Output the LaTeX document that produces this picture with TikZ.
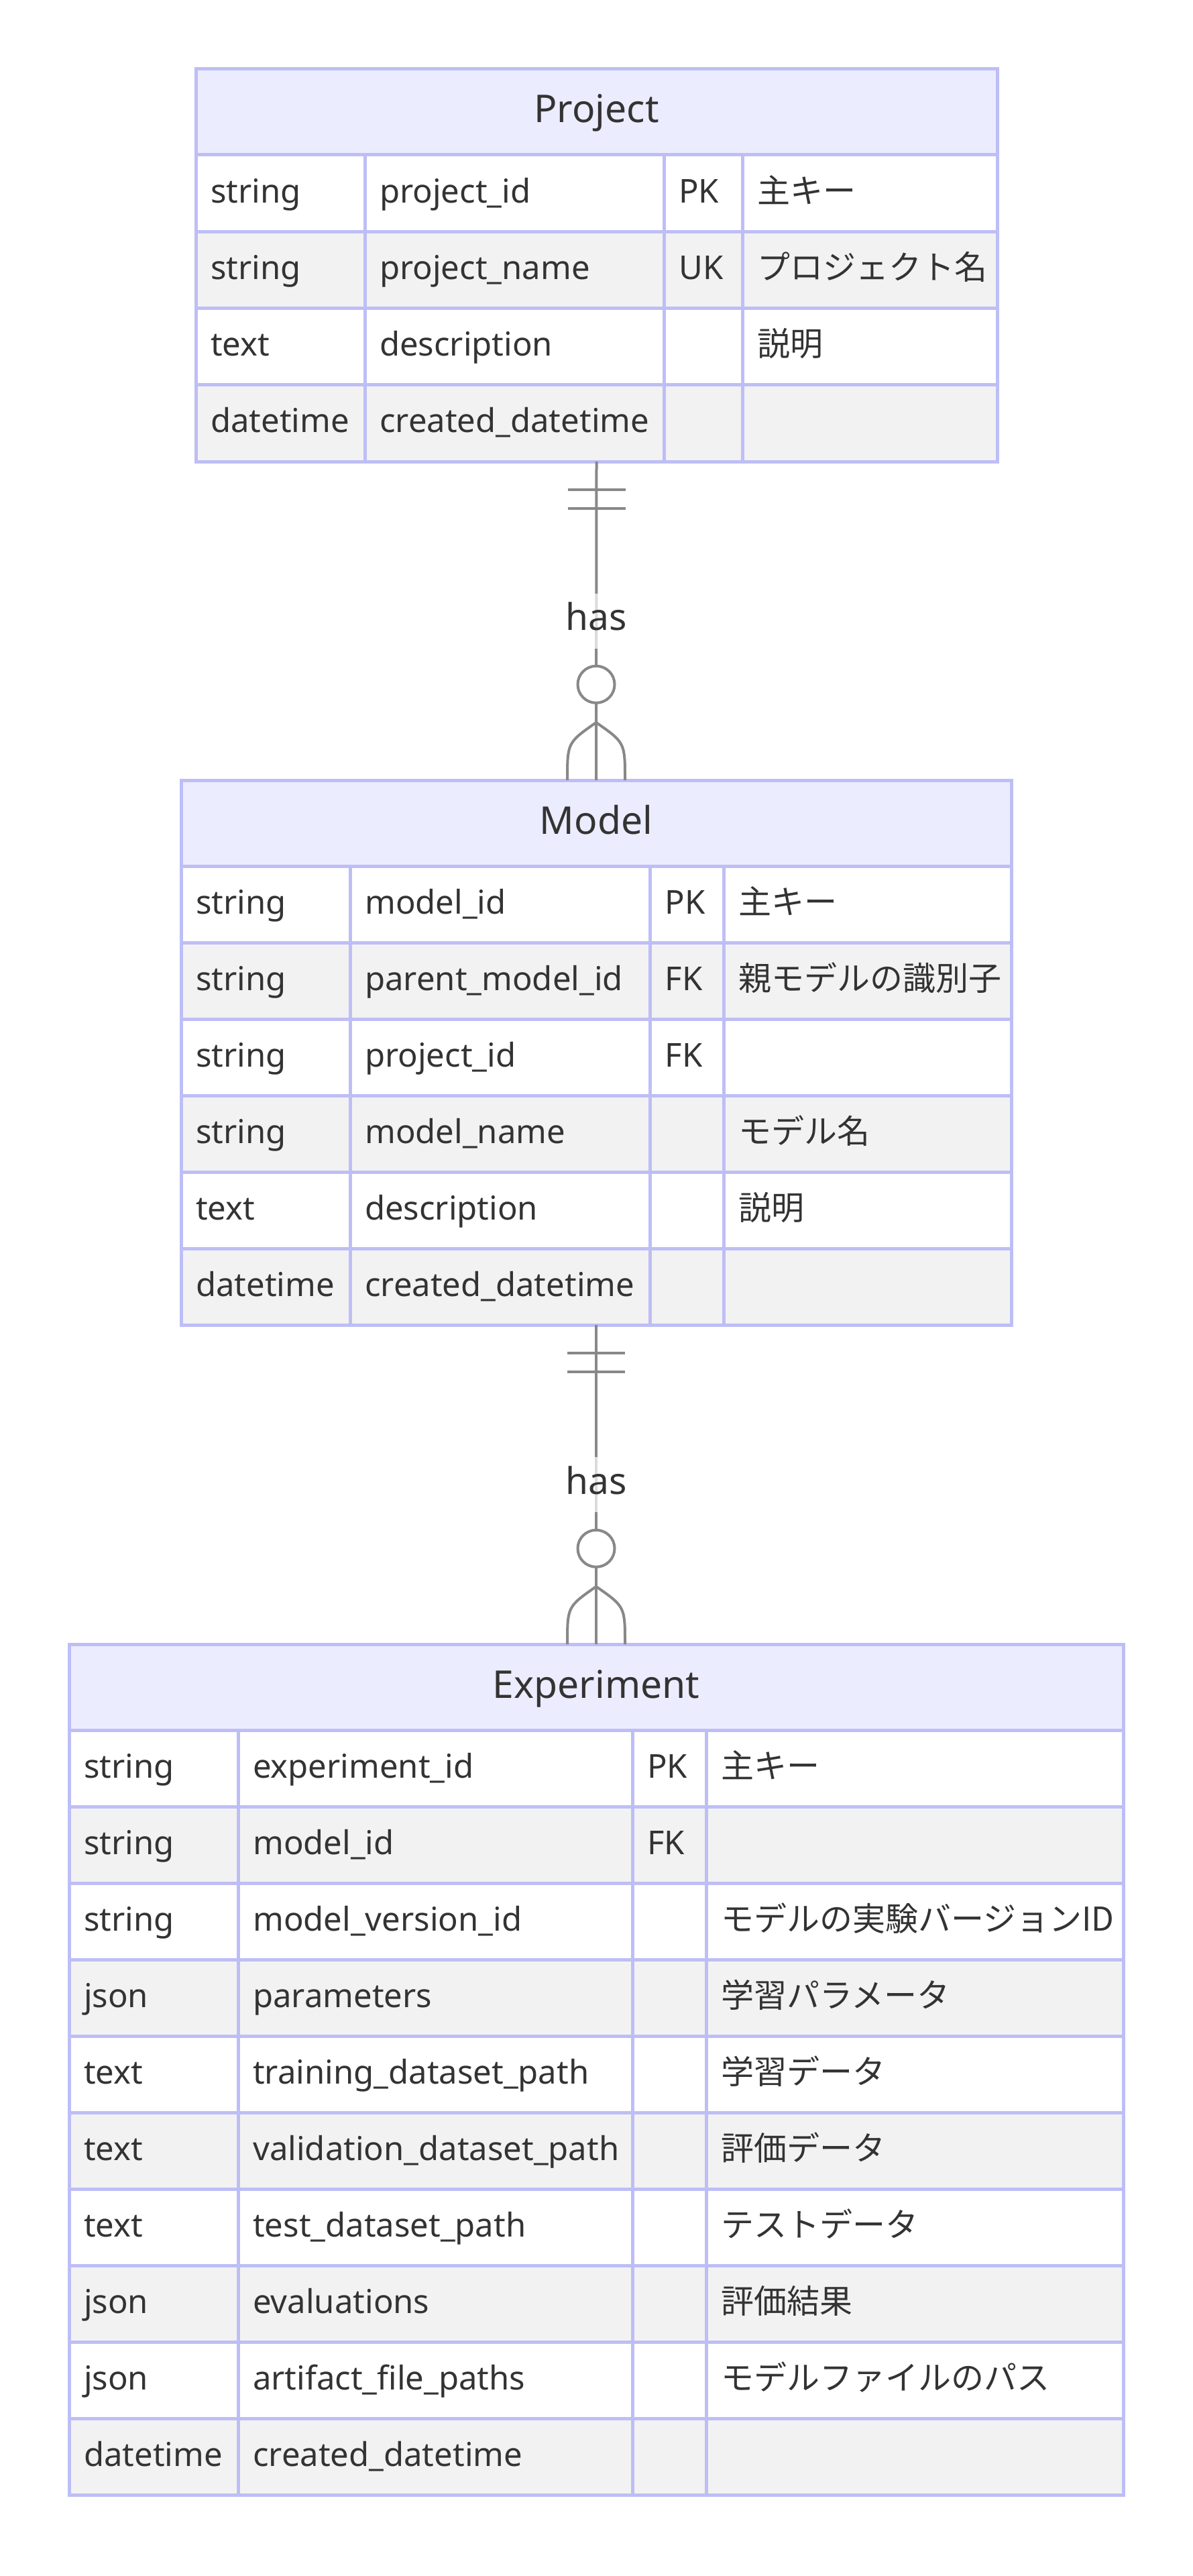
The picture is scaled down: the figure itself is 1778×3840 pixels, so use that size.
\documentclass[tikz,border=0pt]{standalone}
\usepackage{fontspec}
\setmainfont{Noto Sans}
\newfontfamily\jp{Noto Sans CJK JP}
\usepackage{tikz}
\definecolor{erborder}{RGB}{190,190,246}
\definecolor{erhead}{RGB}{236,236,255}
\definecolor{ereven}{RGB}{242,242,242}
\definecolor{ertext}{RGB}{51,51,51}
\definecolor{erline}{RGB}{136,136,136}
\tikzstyle{cell}=[draw=erborder, line width=5pt]
\tikzstyle{tableframe}=[draw=erborder, line width=5pt, inner sep=0, outer sep=0]
\tikzstyle{entitytitle}=[anchor=base, inner sep=0, text=ertext, font=\fontsize{57}{68}\selectfont]
\tikzstyle{attr}=[anchor=base west, inner sep=0, text=ertext, font=\fontsize{49}{59}\selectfont]
\tikzstyle{rel}=[draw=erline, line width=4pt]
\tikzstyle{haslabel}=[fill=white, fill opacity=0.7, text opacity=1, text=ertext, font=\fontsize{55}{66}\selectfont, text height=42pt, text depth=14pt, inner xsep=4pt, inner ysep=13pt]
\tikzstyle{onecirc}=[circle, draw=erline, line width=4pt, fill=white, minimum size=55pt, inner sep=0]

\begin{document}
\begin{tikzpicture}[x=1pt, y=-1pt]
	\fill[white] (0,0) rectangle (1778,3840);
	\useasboundingbox (0,0) rectangle (1778,3840);
	% Project
	\draw[cell, fill=erhead] (292,103) rectangle (1487,231);
	\node[entitytitle] (project-title) at (889.5,183) {Project};
	\foreach \ty/\nm/\ky/\cm [count=\i] in {string/project\_id/PK/主キー, string/project\_name/UK/プロジェクト名, text/description/{}/説明, datetime/created\_datetime/{}/{}}{
		\pgfmathsetmacro\yt{231+(\i-1)*114.25}
		\ifodd\i \def\rc{white}\else\def\rc{ereven}\fi
		\draw[cell, fill=\rc] (292,\yt) rectangle (544,\yt+114.25);
		\draw[cell, fill=\rc] (544,\yt) rectangle (990,\yt+114.25);
		\draw[cell, fill=\rc] (990,\yt) rectangle (1107,\yt+114.25);
		\draw[cell, fill=\rc] (1107,\yt) rectangle (1487,\yt+114.25);
		\node[attr] (p-ty-\i) at (314,\yt+71) {\ty};
		\node[attr] (p-nm-\i) at (566,\yt+71) {\nm};
		\node[attr] (p-ky-\i) at (1012,\yt+71) {\ky};
		\node[attr] (p-cm-\i) at (1129,\yt+71) {\jp\cm};
	}
	\node[tableframe, minimum width=1195pt, minimum height=585pt] (project) at (889.5,395.5) {};
	% Model
	\draw[cell, fill=erhead] (270,1163) rectangle (1508,1291);
	\node[entitytitle] (model-title) at (889,1243) {Model};
	\foreach \ty/\nm/\ky/\cm [count=\i] in {string/model\_id/PK/主キー, string/parent\_model\_id/FK/親モデルの識別子, string/project\_id/FK/{}, string/model\_name/{}/モデル名, text/description/{}/説明, datetime/created\_datetime/{}/{}}{
		\pgfmathsetmacro\yt{1291+(\i-1)*114}
		\ifodd\i \def\rc{white}\else\def\rc{ereven}\fi
		\draw[cell, fill=\rc] (270,\yt) rectangle (522,\yt+114);
		\draw[cell, fill=\rc] (522,\yt) rectangle (969.5,\yt+114);
		\draw[cell, fill=\rc] (969.5,\yt) rectangle (1079.5,\yt+114);
		\draw[cell, fill=\rc] (1079.5,\yt) rectangle (1508,\yt+114);
		\node[attr] (m-ty-\i) at (292,\yt+71) {\ty};
		\node[attr] (m-nm-\i) at (544,\yt+71) {\nm};
		\node[attr] (m-ky-\i) at (991.5,\yt+71) {\ky};
		\node[attr] (m-cm-\i) at (1101.5,\yt+71) {\jp\cm};
	}
	\node[tableframe, minimum width=1238pt, minimum height=812pt] (model) at (889,1569) {};
	% Experiment
	\draw[cell, fill=erhead] (103,2451) rectangle (1675,2579);
	\node[entitytitle] (experiment-title) at (889,2531) {Experiment};
	\foreach \ty/\nm/\ky/\cm [count=\i] in {string/experiment\_id/PK/主キー, string/model\_id/FK/{}, string/model\_version\_id/{}/モデルの実験バージョンID, json/parameters/{}/学習パラメータ, text/training\_dataset\_path/{}/学習データ, text/validation\_dataset\_path/{}/評価データ, text/test\_dataset\_path/{}/テストデータ, json/evaluations/{}/評価結果, json/artifact\_file\_paths/{}/モデルファイルのパス, datetime/created\_datetime/{}/{}}{
		\pgfmathsetmacro\yt{2579+(\i-1)*114}
		\ifodd\i \def\rc{white}\else\def\rc{ereven}\fi
		\draw[cell, fill=\rc] (103,\yt) rectangle (355,\yt+114);
		\draw[cell, fill=\rc] (355,\yt) rectangle (943,\yt+114);
		\draw[cell, fill=\rc] (943,\yt) rectangle (1053,\yt+114);
		\draw[cell, fill=\rc] (1053,\yt) rectangle (1675,\yt+114);
		\node[attr] (e-ty-\i) at (125,\yt+71) {\ty};
		\node[attr] (e-nm-\i) at (377,\yt+71) {\nm};
		\node[attr] (e-ky-\i) at (965,\yt+71) {\ky};
		\node[attr] (e-cm-\i) at (1075,\yt+71) {\jp\cm};
	}
	\node[tableframe, minimum width=1572pt, minimum height=1268pt] (experiment) at (889,3085) {};
	% Project ||--o{ Model
	\draw[rel] (project.south) -- node[haslabel] (has-pm) {has} (model.north);
	\draw[rel] ([shift={(-43,42)}]project.south) -- ([shift={(43,42)}]project.south);
	\draw[rel] ([shift={(-43,70)}]project.south) -- ([shift={(43,70)}]project.south);
	\node[onecirc] (zero-pm) at ([yshift=142.7pt]model.north) {};
	\draw[rel] ([xshift=-43pt]model.north) .. controls ([shift={(-43,-56)}]model.north) .. ([yshift=86pt]model.north) .. controls ([shift={(43,-56)}]model.north) .. ([xshift=43pt]model.north);
	% Model ||--o{ Experiment
	\draw[rel] (model.south) -- node[haslabel] (has-me) {has} (experiment.north);
	\draw[rel] ([shift={(-43,42)}]model.south) -- ([shift={(43,42)}]model.south);
	\draw[rel] ([shift={(-43,70)}]model.south) -- ([shift={(43,70)}]model.south);
	\node[onecirc] (zero-me) at ([yshift=142.7pt]experiment.north) {};
	\draw[rel] ([xshift=-43pt]experiment.north) .. controls ([shift={(-43,-56)}]experiment.north) .. ([yshift=86pt]experiment.north) .. controls ([shift={(43,-56)}]experiment.north) .. ([xshift=43pt]experiment.north);
\end{tikzpicture}
\end{document}
